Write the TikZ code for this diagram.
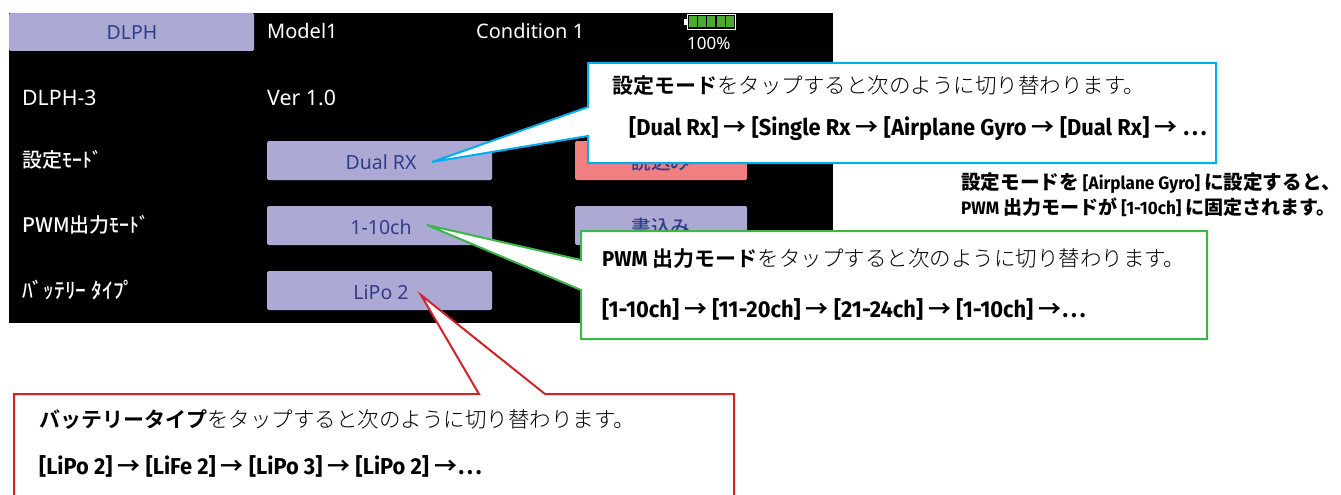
\documentclass[tikz,border=0pt]{standalone}
\usepackage{fontspec}
\newfontfamily\jabf{Noto Sans CJK JP Bold}
\newfontfamily\jal{Noto Sans CJK JP Light}
\newfontfamily\jar{Noto Sans CJK JP Medium}
\newfontfamily\latfam[FakeStretch=0.95]{Fira Sans}
\newcommand\latb{\latfam\bfseries}
\newcommand\jab{\jabf\mdseries}
\newcommand\hb{\jabf\fontsize{21}{24}\selectfont}
\newcommand\nj{\jabf\fontsize{19.6}{22}\selectfont}
\newcommand\njs{\jabf\fontsize{19}{22}\selectfont}
\newfontfamily\scr{Noto Sans}
\definecolor{btn}{HTML}{ACA9D5}
\definecolor{btntxt}{HTML}{333D85}
\definecolor{redbtn}{HTML}{F27F80}
\definecolor{cblue}{HTML}{00AEEF}
\definecolor{cgreen}{HTML}{3CB54A}
\definecolor{cred}{HTML}{D2232A}
\definecolor{batt}{HTML}{4CA832}
\tikzset{
  txt/.style={inner sep=0pt,anchor=west},
  scrtxt/.style={txt,text=white,font=\scr\fontsize{20}{22}\selectfont},
  scrja/.style={txt,text=white,font=\jar\fontsize{20}{22}\selectfont},
  btnlbl/.style={inner sep=0pt,text=btntxt,font=\scr\fontsize{19.5}{22}\selectfont},
  btnface/.style={fill=btn,rounded corners=1.5pt},
  callout/.style={fill=white,line width=2pt,line join=miter},
  head/.style={txt,font=\jal\fontsize{21.5}{24}\selectfont},
  seq/.style={txt,font=\latb\fontsize{23}{24}\selectfont},
  note/.style={txt,font=\latb\fontsize{18}{20}\selectfont},
}
\begin{document}
\begin{tikzpicture}[x=1pt,y=-1pt]
\useasboundingbox (0,0) rectangle (1341,495);
\clip (0,0) rectangle (1341,495);
% screen
\fill[black] (9,13) rectangle (833,323);
\fill[btnface] (9,13) rectangle (254,51);
\node[btnlbl] (tab) at (132,33) {DLPH};
\node[scrtxt] (model) at (267,31) {Model1};
\node[scrtxt] (cond) at (476,31) {Condition 1};
\node[scrtxt,font=\scr\fontsize{17}{18}\selectfont] (pct) at (687,43) {100\%};
% battery
\draw[white,line width=.8pt] (687,14.5) rectangle (735.5,29);
\fill[white] (684,19) rectangle (687,25);
\foreach \i in {0,...,4} \fill[batt] ({689+\i*9.2},16.5) rectangle ({697+\i*9.2},27);
\node[scrtxt,font=\scr\fontsize{21.3}{22}\selectfont] (dlph) at (22,98) {DLPH-3};
\node[scrtxt,font=\scr\fontsize{21.3}{22}\selectfont] (ver) at (267,98) {Ver 1.0};
\node[scrja] (l1) at (22,160) {設定ﾓｰﾄﾞ};
\node[scrja] (l2) at (22,225) {PWM出力ﾓｰﾄﾞ};
\node[scrja,font=\jar\fontsize{21.5}{22}\selectfont] (l3) at (22,290) {ﾊﾞｯﾃﾘｰ ﾀｲﾌﾟ};
\fill[btnface] (267,141) rectangle (492,180);
\fill[btnface] (267,206) rectangle (492,245);
\fill[btnface] (267,271) rectangle (492,310);
\fill[redbtn,rounded corners=1.5pt] (575,141) rectangle (747,180);
\fill[btnface] (575,206) rectangle (747,245);
\node[btnlbl] (b1) at (381,162) {Dual RX};
\node[btnlbl] (b2) at (381,227) {1-10ch};
\node[btnlbl] (b3) at (381,292) {LiPo 2};
\node[btnlbl,font=\jar\fontsize{19.5}{22}\selectfont] (b4) at (661,162) {読込み};
\node[btnlbl,font=\jar\fontsize{19.5}{22}\selectfont] (b5) at (661,227) {書込み};
% callouts
\draw[callout,draw=cblue] (588,63) -- (1216,63) -- (1216,163) -- (588,163) -- (588,136) -- (432,162) -- (588,107) -- cycle;
\draw[callout,draw=cgreen] (581,231) -- (1207,231) -- (1207,339) -- (581,339) -- (581,290) -- (427,225) -- (581,260) -- cycle;
\draw[callout,draw=cred] (14,394) -- (479,394) -- (421,295) -- (545,394) -- (734,394) -- (734,510) -- (14,510) -- cycle;
% callout text
\node[head] (t1) at (612,86) {{\hb 設定モード}をタップすると次のように切り替わります。};
\node[seq] (s1) at (629,129) {[Dual Rx] {\jab→} [Single Rx {\jab→} [Airplane Gyro {\jab→} [Dual Rx] {\jab→} {\jab …}};
\node[head] (t2) at (602,259) {{\latb PWM}\hspace{5pt}{\hb 出力モード}をタップすると次のように切り替わります。};
\node[seq] (s2) at (602,309) {[1-10ch] {\jab→} [11-20ch] {\jab→} [21-24ch] {\jab→} [1-10ch] {\jab→…}};
\node[head] (t3) at (39,420) {{\hb バッテリータイプ}をタップすると次のように切り替わります。};
\node[seq] (s3) at (39,466) {[LiPo 2] {\jab→} [LiFe 2] {\jab→} [LiPo 3] {\jab→} [LiPo 2] {\jab→…}};
% note
\node[note] (n1) at (961,183) {{\nj 設定モードを} [Airplane Gyro] {\nj に設定すると、}};
\node[note] (n2) at (961,207) {PWM {\njs 出力モードが} [1-10ch] {\njs に固定されます。}};
\end{tikzpicture}
\end{document}
